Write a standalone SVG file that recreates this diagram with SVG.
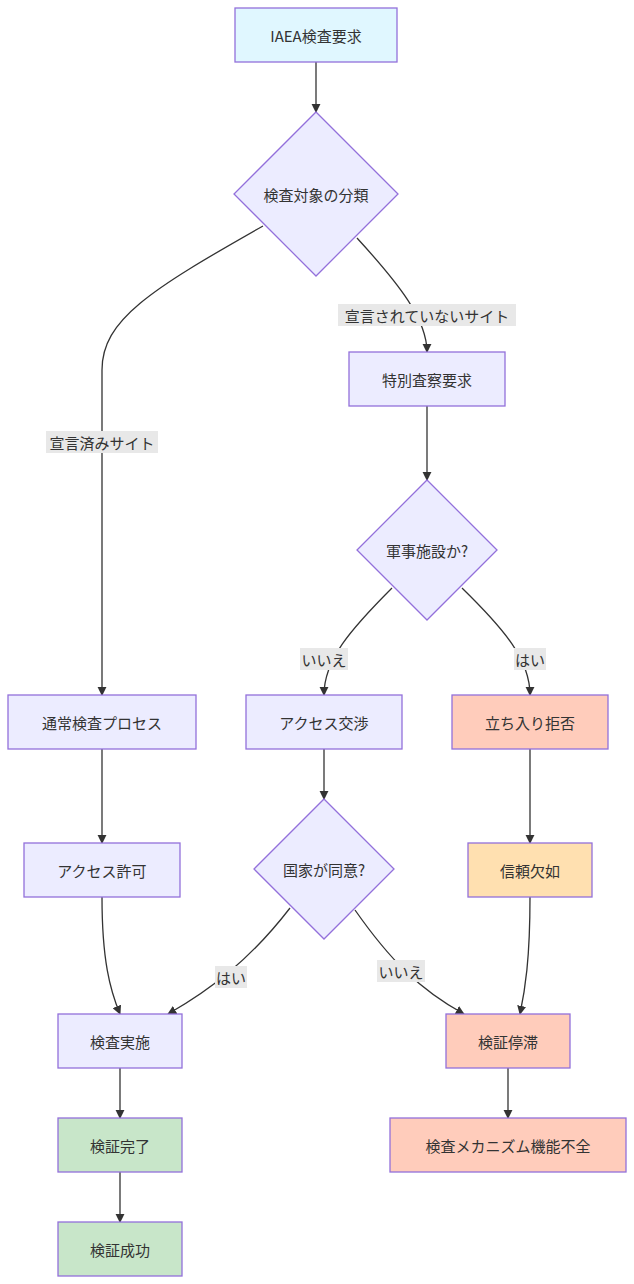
<svg xmlns="http://www.w3.org/2000/svg" width="634" height="1284" viewBox="0 0 634 1284">
<style>
.n{fill:#ececff;stroke:#9370db;stroke-width:1.3}
.b{fill:#e0f7ff}.r{fill:#ffccbb}.o{fill:#ffe0b0}.g{fill:#c8e6c9}
text{font-family:"Noto Sans CJK JP","Noto Sans",sans-serif;font-size:15px;fill:#333;text-anchor:middle;dominant-baseline:central}
.e{fill:none;stroke:#333;stroke-width:1.3;marker-end:url(#a)}
.lb{fill:#e8e8e8}
</style>
<defs><marker id="a" viewBox="0 0 10 10" refX="9" refY="5" markerWidth="7" markerHeight="7" orient="auto"><path d="M0,0L10,5L0,10z" fill="#333"/></marker></defs>
<rect width="634" height="1284" fill="#fff"/>
<g id="edges">
<path class="e" d="M316,62V112"/>
<path class="e" d="M263,226C150,290 102,320 102,370V695"/>
<path class="e" d="M357,238C400,285 427,320 427,352"/>
<path class="e" d="M427,406V480"/>
<path class="e" d="M392,588C350,630 324,660 324,695"/>
<path class="e" d="M462,588C505,630 530,660 530,695"/>
<path class="e" d="M102,749V843"/>
<path class="e" d="M324,749V799"/>
<path class="e" d="M530,749V843"/>
<path class="e" d="M102,897C102,960 110,990 120,1014"/>
<path class="e" d="M290,908C250,960 210,990 168,1014"/>
<path class="e" d="M355,910C390,960 420,990 464,1014"/>
<path class="e" d="M530,897C530,960 525,990 520,1014"/>
<path class="e" d="M120,1068V1118"/>
<path class="e" d="M120,1172V1222"/>
<path class="e" d="M508,1068V1118"/>
<rect class="lb" x="338" y="304" width="178" height="22"/><text x="427" y="315">宣言されていないサイト</text>
<rect class="lb" x="46" y="431" width="112" height="22"/><text x="102" y="442">宣言済みサイト</text>
<rect class="lb" x="300" y="648" width="48" height="22"/><text x="324" y="659">いいえ</text>
<rect class="lb" x="514" y="648" width="32" height="22"/><text x="530" y="659">はい</text>
<rect class="lb" x="215" y="966" width="32" height="22"/><text x="231" y="977">はい</text>
<rect class="lb" x="377" y="960" width="48" height="22"/><text x="401" y="971">いいえ</text>
</g>
<g id="n1"><rect class="n b" x="235" y="8" width="162" height="54"/><text x="316" y="35">IAEA検査要求</text></g>
<g id="n2"><path class="n" d="M316,112L398,194L316,276L234,194z"/><text x="316" y="194">検査対象の分類</text></g>
<g id="n3"><rect class="n" x="349" y="352" width="156" height="54"/><text x="427" y="379">特別査察要求</text></g>
<g id="n4"><path class="n" d="M427,480L497,550L427,620L357,550z"/><text x="427" y="550">軍事施設か?</text></g>
<g id="n5"><rect class="n" x="8" y="695" width="188" height="54"/><text x="102" y="722">通常検査プロセス</text></g>
<g id="n6"><rect class="n" x="246" y="695" width="156" height="54"/><text x="324" y="722">アクセス交渉</text></g>
<g id="n7"><rect class="n r" x="452" y="695" width="156" height="54"/><text x="530" y="722">立ち入り拒否</text></g>
<g id="n8"><rect class="n" x="24" y="843" width="156" height="54"/><text x="102" y="870">アクセス許可</text></g>
<g id="n9"><path class="n" d="M324,799L394,869L324,939L254,869z"/><text x="324" y="869">国家が同意?</text></g>
<g id="n10"><rect class="n o" x="468" y="843" width="124" height="54"/><text x="530" y="870">信頼欠如</text></g>
<g id="n11"><rect class="n" x="58" y="1014" width="124" height="54"/><text x="120" y="1041">検査実施</text></g>
<g id="n12"><rect class="n r" x="446" y="1014" width="124" height="54"/><text x="508" y="1041">検証停滞</text></g>
<g id="n13"><rect class="n g" x="58" y="1118" width="124" height="54"/><text x="120" y="1145">検証完了</text></g>
<g id="n14"><rect class="n r" x="390" y="1118" width="236" height="54"/><text x="508" y="1145">検査メカニズム機能不全</text></g>
<g id="n15"><rect class="n g" x="58" y="1222" width="124" height="54"/><text x="120" y="1249">検証成功</text></g>
</svg>
